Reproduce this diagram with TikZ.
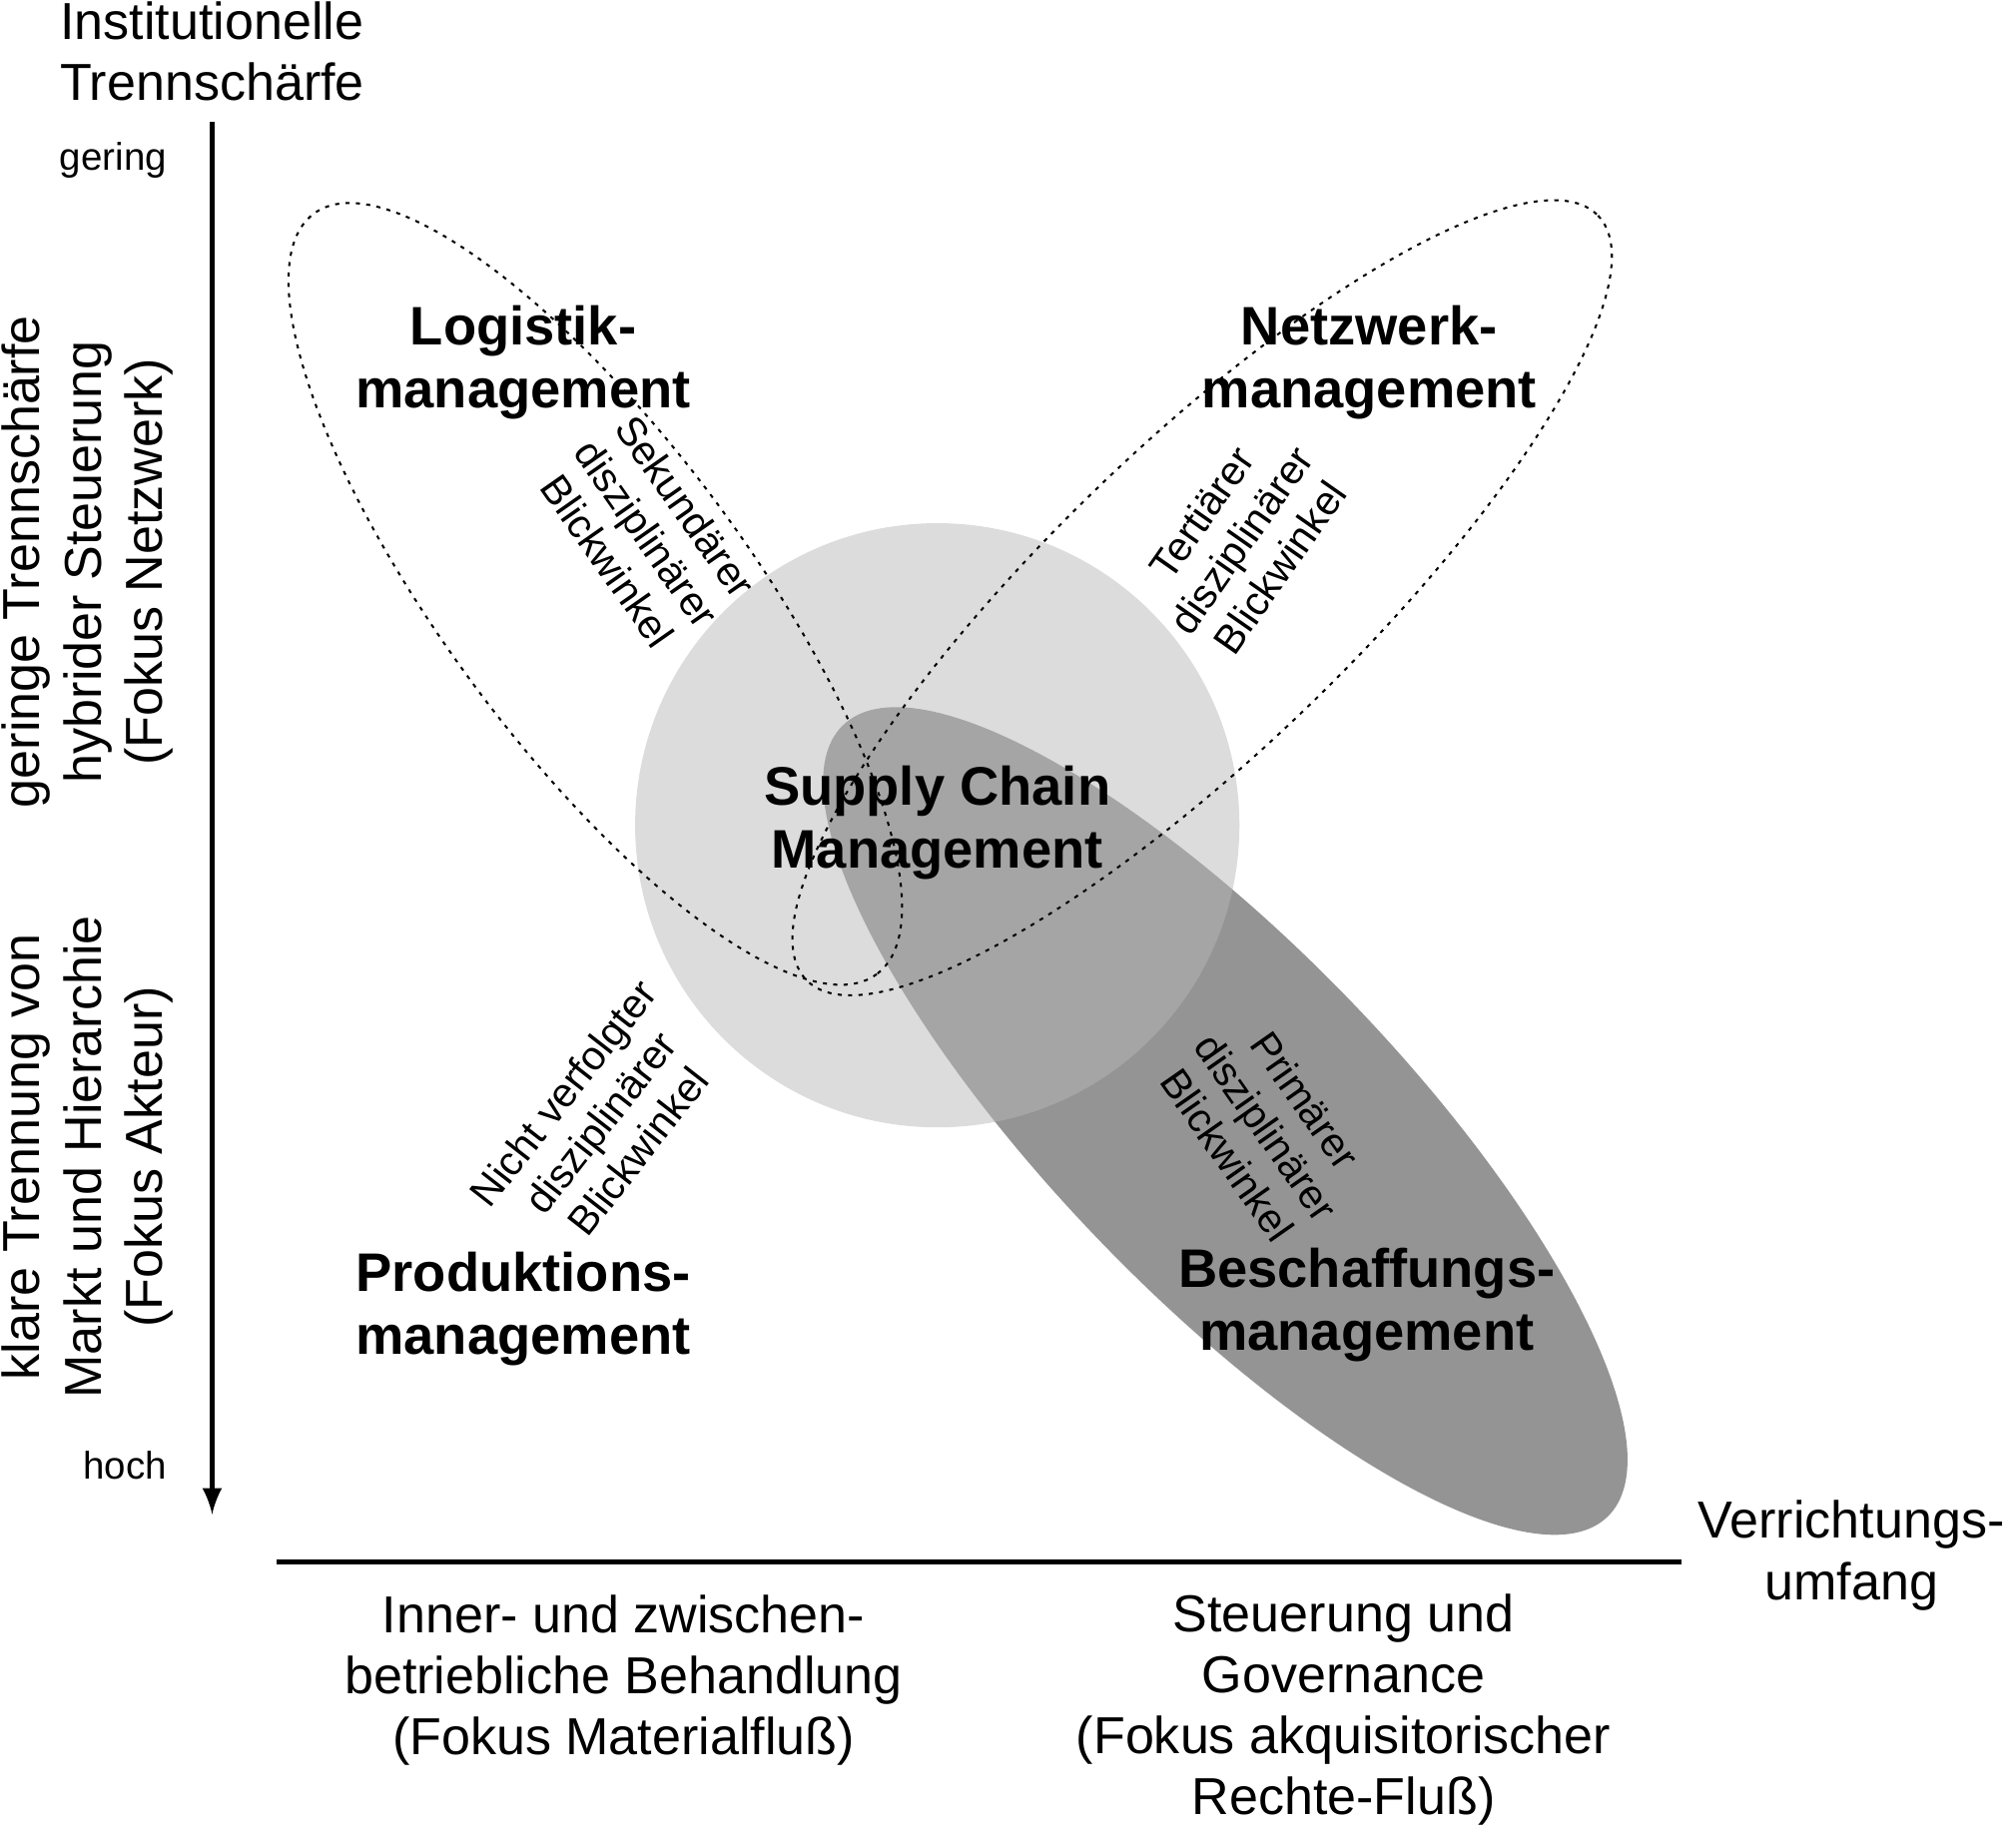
\documentclass[tikz,border=0pt]{standalone}
\usepackage{fontspec}
\setmainfont{Liberation Sans}
\begin{document}
\begin{tikzpicture}[x=0.01cm,y=-0.01cm,
 lab/.style={align=center,font=\fontsize{11.5}{13.5}\selectfont},
 big/.style={align=center,font=\bfseries\fontsize{12}{14}\selectfont},
 small/.style={align=center,font=\fontsize{9}{10.5}\selectfont},
 tick/.style={font=\fontsize{8.5}{10}\selectfont},
 dots/.style={line width=0.45pt,dash pattern=on 0.9pt off 1.4pt}]
\useasboundingbox (0,0) rectangle (1568,1425);
\fill[gray!60!black!60] (953,872) ellipse[x radius=428,y radius=135,rotate=-46];
\fill[fill={rgb,255:red,184;green,184;blue,184},opacity=0.49] (729,642) circle (235);
\draw[dots] (463,462) ellipse[x radius=368,y radius=118,rotate=-53.5];
\draw[dots] (935,465) ellipse[x radius=428,y radius=118,rotate=44];
\coordinate (vt) at (165,95); \coordinate (vb) at (165,1178);
\draw[line width=1pt,-{latex}] (vt) -- (vb);
\coordinate (hl) at (215,1215); \coordinate (hr) at (1308,1215);
\draw[line width=1pt] (hl) -- (hr);
\node[lab] (ti) at (165,40) {Institutionelle\\Trennschärfe};
\node[tick,anchor=east] (ge) at (142,125) {gering};
\node[tick,anchor=east] (ho) at (142,1140) {hoch};
\node[lab,rotate=90] (l1) at (68,437) {geringe Trennschärfe\\hybrider Steuerung\\(Fokus Netzwerk)};
\node[lab,rotate=90] (l2) at (68,900) {klare Trennung von\\Markt und Hierarchie\\(Fokus Akteur)};
\node[big] (lo) at (407,282) {Logistik-\\management};
\node[big] (ne) at (1065,282) {Netzwerk-\\management};
\node[big] (pr) at (407,1018) {Produktions-\\management};
\node[big] (be) at (1063,1015) {Beschaffungs-\\management};
\node[big] (sc) at (729,640) {Supply Chain\\Management};
\node[small,rotate=-55] (s1) at (503,415) {Sekundärer\\disziplinärer\\Blickwinkel};
\node[small,rotate=55] (s2) at (965,420) {Tertiärer\\disziplinärer\\Blickwinkel};
\node[small,rotate=52] (s3) at (467,873) {Nicht verfolgter\\disziplinärer\\Blickwinkel};
\node[small,rotate=-55] (s4) at (985,877) {Primärer\\disziplinärer\\Blickwinkel};
\node[lab] (b1) at (485,1307) {Inner- und zwischen-\\betriebliche Behandlung\\(Fokus Materialfluß)};
\node[lab] (b2) at (1045,1330) {Steuerung und\\Governance\\(Fokus akquisitorischer\\Rechte-Fluß)};
\node[lab] (vu) at (1440,1210) {Verrichtungs-\\umfang};
\end{tikzpicture}
\end{document}
